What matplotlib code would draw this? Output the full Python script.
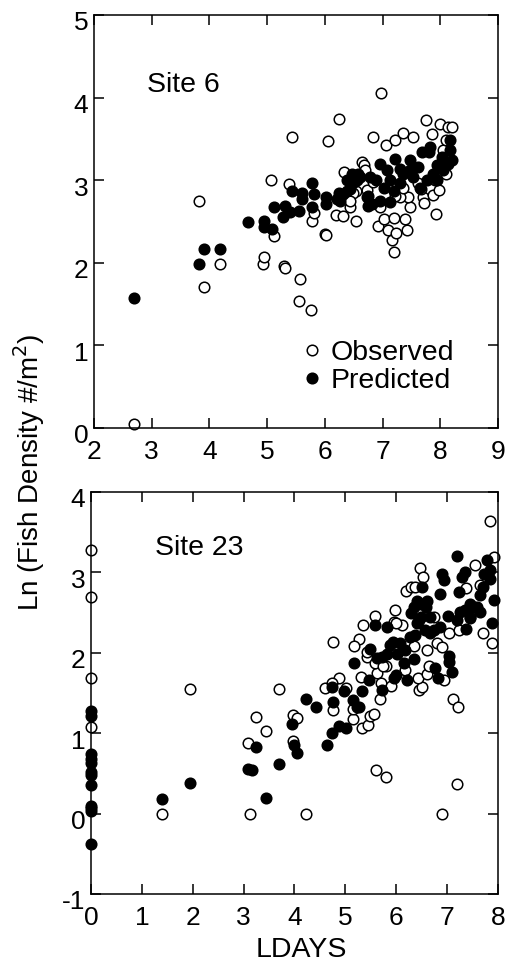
import numpy as np
import matplotlib.pyplot as plt
import matplotlib.transforms as mtransforms

plt.rcParams['font.family'] = ['Liberation Sans', 'DejaVu Sans']
plt.rcParams['axes.unicode_minus'] = False

# --- Site 6 (top panel) ---
site6_obs_x = [2.70, 3.82, 3.91, 4.18, 4.92, 4.95, 5.06, 5.12, 5.30, 5.31, 5.38, 5.43,
               5.57, 5.56, 5.76, 5.78, 5.82, 6.01, 6.02, 6.06, 6.25, 6.20, 6.32, 6.43,
               6.54, 6.34, 6.64, 6.67, 6.38, 6.44, 6.54, 6.84, 6.97, 7.06, 7.22, 7.36,
               7.53, 7.75, 8.00, 8.13, 8.20, 7.86, 6.92, 7.03, 7.09, 7.16, 7.20, 7.24,
               7.20, 7.39, 7.42, 7.47, 7.92, 6.95, 7.70, 7.72, 7.87, 7.98, 7.44, 7.31,
               8.10, 8.05, 8.10, 6.73, 6.84, 7.90, 7.66, 7.61, 7.36, 7.22, 6.49, 6.43,
               6.70]
site6_obs_y = [0.05, 2.75, 1.71, 1.98, 1.98, 2.07, 3.00, 2.32, 1.96, 1.94, 2.95, 3.52,
               1.80, 1.54, 1.43, 2.51, 2.60, 2.35, 2.33, 3.47, 3.74, 2.58, 2.57, 2.67,
               2.51, 3.10, 3.22, 3.18, 2.83, 2.85, 2.87, 3.52, 4.06, 3.43, 3.49, 3.57,
               3.52, 3.73, 3.68, 3.64, 3.64, 3.56, 2.44, 2.53, 2.40, 2.28, 2.54, 2.36,
               2.13, 2.53, 2.40, 2.67, 2.59, 2.68, 2.79, 2.72, 2.82, 2.88, 2.80, 2.79,
               3.08, 3.36, 3.48, 2.88, 2.98, 3.00, 2.89, 2.96, 2.91, 2.81, 2.84, 2.75,
               3.12]
site6_pred_x = [2.70, 3.82, 3.91, 4.18, 4.66, 4.94, 4.94, 5.08, 5.11, 5.31, 5.28, 5.43,
                5.60, 5.60, 5.77, 5.77, 5.56, 5.40, 5.82, 6.02, 6.02, 6.24, 6.27, 6.38,
                6.47, 6.55, 6.61, 6.32, 6.43, 6.75, 6.75, 6.21, 6.38, 6.50, 6.58, 6.96,
                6.79, 6.73, 6.82, 6.96, 7.13, 7.22, 7.48, 7.68, 7.80, 7.83, 8.03, 8.17,
                8.17, 8.20, 8.14, 8.05, 7.36, 7.53, 7.77, 7.88, 7.30, 7.13, 7.02, 7.19,
                7.65, 7.94, 7.48, 7.62, 7.94, 7.30, 7.07, 6.88]
site6_pred_y = [1.57, 1.98, 2.17, 2.17, 2.49, 2.50, 2.43, 2.41, 2.67, 2.69, 2.55, 2.87,
                2.85, 2.77, 2.96, 2.67, 2.63, 2.61, 2.83, 2.79, 2.71, 2.85, 2.75, 3.00,
                3.08, 3.00, 3.04, 2.83, 2.89, 2.81, 2.69, 2.77, 2.87, 2.98, 3.08, 3.20,
                3.04, 2.79, 2.71, 2.75, 2.73, 3.26, 3.24, 3.34, 3.34, 3.40, 3.28, 3.48,
                3.36, 3.24, 3.20, 3.12, 3.08, 3.04, 3.00, 3.08, 2.96, 3.00, 2.91, 2.87,
                2.91, 3.00, 3.12, 3.16, 3.18, 3.14, 3.12, 3.00]

# --- Site 23 (bottom panel) ---
site23_obs_x = [0.0, 0.0, 0.0, 0.0, 1.39, 1.95, 3.13, 4.22, 6.90, 3.08, 3.25, 3.44,
                3.69, 3.97, 4.04, 3.98, 5.60, 5.80, 7.20, 7.11, 7.21, 7.85, 7.92, 7.88,
                7.70, 7.65, 7.55, 7.37, 7.46, 6.47, 6.53, 6.20, 6.29, 6.37, 5.98, 5.95,
                6.12, 5.59, 5.35, 5.26, 5.18, 4.75, 4.88, 4.61, 4.74, 4.76, 5.02, 5.15,
                5.16, 5.33, 5.45, 5.49, 5.56, 5.31, 5.62, 5.69, 5.71, 5.89, 5.79, 5.43,
                5.59, 6.18, 6.44, 6.51, 6.43, 6.61, 6.61, 6.64, 6.93, 6.80, 6.90, 7.03,
                7.24, 6.34, 6.74, 6.45, 6.00, 5.75, 5.43]
site23_obs_y = [3.28, 2.69, 1.69, 1.08, 0.00, 1.55, 0.00, 0.00, 0.00, 0.88, 1.20, 1.03,
                1.55, 1.23, 1.19, 0.90, 0.54, 0.45, 0.37, 1.43, 1.32, 3.64, 3.19, 2.12,
                2.24, 2.84, 3.09, 2.81, 2.45, 3.06, 2.94, 2.77, 2.82, 2.82, 2.53, 2.38,
                2.34, 2.46, 2.34, 2.17, 2.08, 2.13, 1.69, 1.56, 1.62, 1.29, 1.56, 1.18,
                1.30, 1.06, 1.10, 1.21, 1.24, 1.70, 1.75, 1.43, 1.62, 1.59, 1.83, 1.95,
                1.87, 1.79, 1.54, 1.58, 1.69, 1.74, 2.03, 1.83, 1.66, 2.12, 2.07, 2.24,
                2.28, 2.08, 2.45, 2.41, 2.37, 1.84, 2.01]
site23_pred_x = [0.0, 0.0, 0.0, 0.0, 0.0, 0.0, 0.0, 0.0, 0.0, 0.0, 0.0, 0.0,
                 1.39, 1.95, 3.08, 3.17, 3.25, 3.44, 3.69, 3.96, 4.00, 4.05, 4.22, 4.42,
                 4.63, 4.74, 4.76, 4.74, 4.88, 5.01, 4.97, 5.16, 5.23, 5.27, 5.33, 5.18,
                 5.46, 5.48, 5.59, 5.62, 5.73, 5.82, 5.72, 5.82, 5.95, 6.00, 5.88, 5.94,
                 6.08, 6.02, 6.17, 6.15, 6.21, 6.34, 6.28, 6.41, 6.49, 6.49, 6.51, 6.61,
                 6.67, 6.74, 6.87, 6.87, 6.90, 6.93, 6.77, 6.83, 7.01, 7.03, 7.03, 7.09,
                 7.19, 7.19, 7.24, 7.38, 7.26, 7.36, 7.46, 7.52, 7.59, 7.65, 7.29, 7.36,
                 7.65, 7.71, 7.73, 7.78, 7.84, 7.92, 7.88, 7.85, 7.46, 6.34, 6.41, 6.58,
                 6.29, 6.56, 6.67, 6.37]
site23_pred_y = [-0.38, 0.07, 0.03, 0.10, 0.36, 0.48, 0.52, 0.63, 0.68, 0.74, 1.21, 1.27,
                 0.18, 0.38, 0.55, 0.54, 0.83, 0.19, 0.62, 1.12, 0.85, 0.75, 1.42, 1.33,
                 0.85, 1.00, 1.39, 1.58, 1.09, 1.07, 1.53, 1.41, 1.33, 1.32, 1.53, 1.87,
                 1.66, 2.05, 2.34, 1.93, 1.54, 2.32, 1.95, 1.99, 1.69, 1.72, 2.10, 2.14,
                 2.12, 1.99, 2.04, 1.87, 1.66, 1.92, 2.20, 2.37, 2.45, 2.61, 2.82, 2.65,
                 2.45, 2.28, 2.32, 2.73, 2.98, 2.90, 1.81, 1.69, 2.46, 1.96, 1.89, 1.76,
                 3.20, 2.41, 2.76, 2.29, 2.51, 2.53, 2.61, 2.57, 2.57, 2.51, 2.94, 3.01,
                 2.72, 2.82, 2.98, 3.15, 2.92, 2.66, 2.37, 3.03, 2.43, 2.57, 2.65, 2.57,
                 2.49, 2.28, 2.24, 2.22]

fig = plt.figure(figsize=(5.06, 9.63), dpi=100)
ax1 = fig.add_axes([0.1858, 0.5556, 0.7984, 0.4289])
ax2 = fig.add_axes([0.1798, 0.0717, 0.8043, 0.4174])

ms = 7.6
# y tick labels sit a little below their ticks in the original
shift_down = mtransforms.ScaledTranslation(0, -6 / 100, fig.dpi_scale_trans)

for ax in (ax1, ax2):
    for s in ax.spines.values():
        s.set_linewidth(1.1)
    ax.tick_params(direction='in', length=7, width=1.1, top=True, right=True,
                   labelsize=19)
    ax.tick_params(axis='x', pad=9)
    ax.tick_params(axis='y', pad=4)

ax1.plot(site6_obs_x, site6_obs_y, 'o', ms=ms, mfc='white', mec='black', mew=1.1,
         clip_on=False, label='Observed')
ax1.plot(site6_pred_x, site6_pred_y, 'o', ms=ms, mfc='black', mec='black', mew=1.1,
         clip_on=False, label='Predicted')
ax1.set_xlim(2, 9)
ax1.set_ylim(0, 5)
ax1.set_xticks(range(2, 10))
ax1.set_yticks(range(0, 6))
ax1.text(0.131, 0.814, 'Site 6', transform=ax1.transAxes, fontsize=20.5)
ax1.legend(loc='lower right', bbox_to_anchor=(0.927, 0.048), frameon=False, fontsize=20.5,
           handletextpad=0.25, labelspacing=0.07, borderpad=0, handlelength=0.8)

ax2.plot(site23_obs_x, site23_obs_y, 'o', ms=ms, mfc='white', mec='black', mew=1.1,
         clip_on=False)
ax2.plot(site23_pred_x, site23_pred_y, 'o', ms=ms, mfc='black', mec='black', mew=1.1,
         clip_on=False)
ax2.set_xlim(0, 8)
ax2.set_ylim(-1, 4)
ax2.set_xticks(range(0, 9))
ax2.set_yticks(range(-1, 5))
ax2.text(0.157, 0.843, 'Site 23', transform=ax2.transAxes, fontsize=20.5)
ax2.set_xlabel('LDAYS', fontsize=20.5)
ax2.xaxis.set_label_coords(0.516, -0.139)
ax2.xaxis.label.set_va('center')

for ax in (ax1, ax2):
    for tick in ax.yaxis.get_major_ticks():
        tick.label1.set_transform(tick.label1.get_transform() + shift_down)

fig.text(0.058, 1 - 472 / 963, 'Ln (Fish Density #/m$^2$)', rotation=90,
         fontsize=20, ha='center', va='center')

fig.savefig('out.png', dpi=100)
